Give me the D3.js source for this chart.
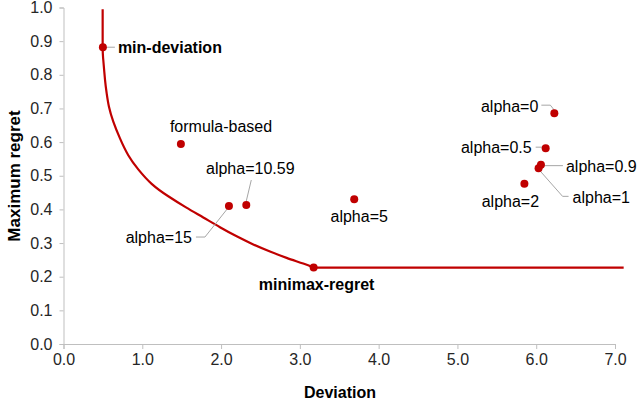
<!DOCTYPE html>
<meta charset="utf-8">

<body style="margin:0;background:#fff;">
    <svg width="640" height="401"></svg>
</body>
<script src="https://cdn.jsdelivr.net/npm/d3@7/dist/d3.min.js"></script>
<script>
    // solutions (deviation, maximum regret)
    let pointNames = ["min-deviation", "formula-based", "alpha=15", "alpha=10.59", "alpha=5", "minimax-regret",
        "alpha=0", "alpha=0.5", "alpha=0.9", "alpha=1", "alpha=2"];
    let pointDev = [0.5, 1.49, 2.1, 2.32, 3.69, 3.175, 6.23, 6.12, 6.06, 6.03, 5.85];
    let pointRegret = [0.882, 0.594, 0.41, 0.413, 0.43, 0.227, 0.686, 0.582, 0.533, 0.522, 0.476];

    // pareto frontier (curved part, then flat tail)
    let frontierDev = [0.497, 0.497, 0.505, 0.527, 0.548, 0.577, 0.632, 0.717, 0.822, 0.949, 1.119, 1.33, 1.555,
        1.774, 1.986, 2.198, 2.409, 2.621, 2.832, 3.043, 3.175, 7.11];
    let frontierRegret = [0.995, 0.882, 0.844, 0.785, 0.745, 0.705, 0.661, 0.611, 0.561, 0.519, 0.476, 0.439, 0.406,
        0.376, 0.347, 0.32, 0.296, 0.275, 0.256, 0.239, 0.227, 0.227];

    let xTicks = [0, 1, 2, 3, 4, 5, 6, 7];
    let yTicks = [0, 0.1, 0.2, 0.3, 0.4, 0.5, 0.6, 0.7, 0.8, 0.9, 1.0];

    // label placement relative to the point: anchor, dx, dy, bold, leader polyline
    let labelLayout = {
        "min-deviation": { a: "start", dx: 15, dy: 0, b: true, l: [[4, 0], [12, 0]] },
        "formula-based": { a: "start", dx: -11, dy: -18 },
        "alpha=15": { a: "end", dx: -37, dy: 31, l: [[-33, 31], [-24, 31], [-1, 2]] },
        "alpha=10.59": { a: "middle", dx: 4, dy: -37, l: [[5, -25], [0, -4]] },
        "alpha=5": { a: "middle", dx: 5, dy: 17 },
        "minimax-regret": { a: "middle", dx: 3, dy: 17, b: true },
        "alpha=0": { a: "end", dx: -16, dy: -7, l: [[-13, -8], [-4, -8], [0, -3]] },
        "alpha=0.5": { a: "end", dx: -14, dy: -1, l: [[-10, -1], [-3, -1]] },
        "alpha=0.9": { a: "start", dx: 25, dy: 2, l: [[3, 1], [22, 1]] },
        "alpha=1": { a: "start", dx: 34, dy: 29, l: [[1, 2], [24, 28], [30, 28]] },
        "alpha=2": { a: "middle", dx: -14, dy: 18 },
    };

    let svg = d3.select("svg"),
        red = "#c00000",
        font = "'Liberation Sans', Arial, sans-serif";

    let x = d3.scaleLinear().domain([0, 7]).range([63.5, 615]),
        y = d3.scaleLinear().domain([0, 1]).range([344, 7.5]);

    let gx = svg.append("g")
        .attr("transform", `translate(0,${y(0)})`)
        .call(d3.axisBottom(x).tickValues(xTicks).tickFormat(d3.format(".1f")).tickSize(5).tickPadding(5));
    let gy = svg.append("g")
        .attr("transform", `translate(${x(0)},0)`)
        .call(d3.axisLeft(y).tickValues(yTicks).tickFormat(d3.format(".1f")).tickSize(4).tickPadding(7));

    [gx, gy].forEach((g) => {
        g.selectAll("path, line").attr("stroke", "#bfbfbf");
        g.selectAll("text").attr("font-family", font).attr("font-size", 16).attr("fill", "#262626");
    });

    svg.append("text")
        .attr("x", 340).attr("y", 398)
        .attr("text-anchor", "middle")
        .attr("font-family", font).attr("font-size", 16).attr("font-weight", "bold")
        .text("Deviation");
    svg.append("text")
        .attr("transform", "translate(20,176) rotate(-90)")
        .attr("text-anchor", "middle")
        .attr("font-family", font).attr("font-size", 17).attr("font-weight", "bold")
        .text("Maximum regret");

    let frontier = d3.zip(frontierDev, frontierRegret),
        n = frontier.length;
    svg.append("path")
        .attr("d", d3.line().x((d) => x(d[0])).y((d) => y(d[1])).curve(d3.curveNatural)(frontier.slice(0, n - 1))
            + "L" + x(frontierDev[n - 1]) + "," + y(frontierRegret[n - 1]))
        .attr("fill", "none")
        .attr("stroke", red)
        .attr("stroke-width", 2.2);

    let pts = pointNames.map((name, i) => ({ name: name, px: x(pointDev[i]), py: y(pointRegret[i]) }));

    svg.append("g").selectAll("polyline")
        .data(pts.filter((d) => labelLayout[d.name].l))
        .join("polyline")
        .attr("points", (d) => labelLayout[d.name].l.map((p) => [d.px + p[0], d.py + p[1]].join(",")).join(" "))
        .attr("fill", "none")
        .attr("stroke", "#a6a6a6")
        .attr("stroke-width", 1);

    svg.append("g").selectAll("circle")
        .data(pts)
        .join("circle")
        .attr("cx", (d) => d.px)
        .attr("cy", (d) => d.py)
        .attr("r", 4)
        .attr("fill", red);

    svg.append("g").selectAll("text")
        .data(pts)
        .join("text")
        .attr("x", (d) => d.px + labelLayout[d.name].dx)
        .attr("y", (d) => d.py + labelLayout[d.name].dy)
        .attr("dy", "0.35em")
        .attr("text-anchor", (d) => labelLayout[d.name].a)
        .attr("font-family", font)
        .attr("font-size", 16)
        .attr("font-weight", (d) => labelLayout[d.name].b ? "bold" : "normal")
        .attr("fill", "#000")
        .text((d) => d.name);
</script>
